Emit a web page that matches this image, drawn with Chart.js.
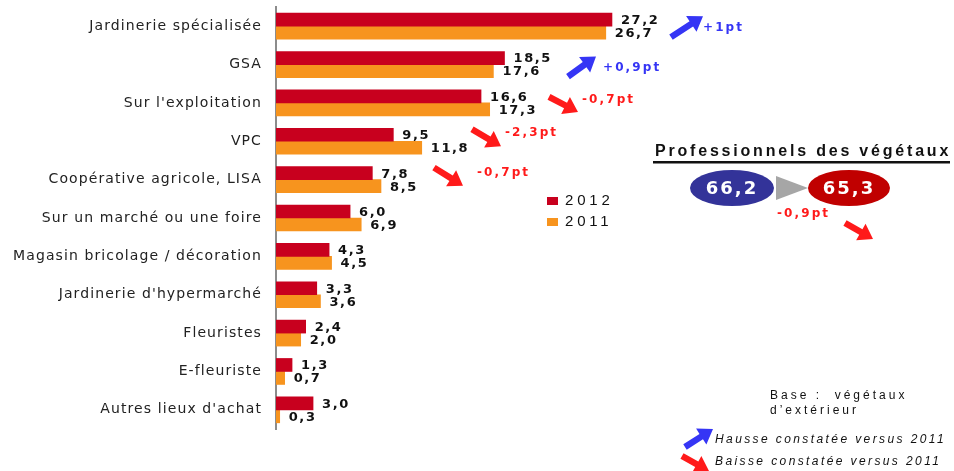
<!DOCTYPE html>
<html><head><meta charset="utf-8">
<script src="https://cdn.jsdelivr.net/npm/chart.js@4.4.0/dist/chart.umd.min.js"></script>
<style>html,body{margin:0;padding:0;background:#fff;}#wrap{width:954px;height:471px;}</style>
</head><body><div id="wrap"><canvas id="c" width="954" height="471"></canvas></div>
<script>
const categories = ['Jardinerie spécialisée','GSA',"Sur l'exploitation",'VPC','Coopérative agricole, LISA','Sur un marché ou une foire','Magasin bricolage / décoration',"Jardinerie d'hypermarché",'Fleuristes','E-fleuriste',"Autres lieux d'achat"];
const values2012 = [27.2,18.5,16.6,9.5,7.8,6.0,4.3,3.3,2.4,1.3,3.0];
const values2011 = [26.7,17.6,17.3,11.8,8.5,6.9,4.5,3.6,2.0,0.7,0.3];
const seriesNames = ['2012','2011'];
const changeLabels = ['+1pt','+0,9pt','-0,7pt','-2,3pt','-0,7pt'];
const panelTitle = 'Professionnels des végétaux';
const panelValues = ['66,2','65,3'];
const panelChange = '-0,9pt';
const baseNote = ['Base :  végétaux', 'd’extérieur'];
const arrowLegend = ['Hausse constatée versus 2011','Baisse constatée versus 2011'];

const RED = '#C8001E', ORANGE = '#F7941E', BLUE_A = '#3535F5', RED_A = '#FF1A1A';

function txt(ctx, s, x, y, o) {
  ctx.save();
  ctx.font = o.font; ctx.fillStyle = o.color || '#000';
  ctx.textAlign = o.align || 'left'; ctx.textBaseline = o.baseline || 'middle';
  ctx.letterSpacing = (o.ls || 0) + 'px';
  ctx.fillText(s, x, y);
  ctx.restore();
}
function arrow(ctx, tx, ty, px, py, color) {
  const dx = px - tx, dy = py - ty, L = Math.hypot(dx, dy);
  const ux = dx / L, uy = dy / L, nx = -uy, ny = ux;
  const w = 3.2, hl = 14, hw = 9.5;
  const bx = px - ux * hl, by = py - uy * hl;
  ctx.save(); ctx.fillStyle = color; ctx.beginPath();
  ctx.moveTo(tx + nx * w, ty + ny * w);
  ctx.lineTo(bx + nx * w, by + ny * w);
  ctx.lineTo(bx + nx * hw, by + ny * hw);
  ctx.lineTo(px, py);
  ctx.lineTo(bx - nx * hw, by - ny * hw);
  ctx.lineTo(bx - nx * w, by - ny * w);
  ctx.lineTo(tx - nx * w, ty - ny * w);
  ctx.closePath(); ctx.fill(); ctx.restore();
}
const fmt = v => v.toFixed(1).replace('.', ',');

const decor = {
  id: 'decor',
  beforeDraw(chart) { chart.ctx.letterSpacing = '1.1px'; },
  beforeDatasetsDraw(chart) { chart.ctx.letterSpacing = '0px'; },
  afterDatasetsDraw(chart) {
    const ctx = chart.ctx;
    chart.data.datasets.forEach((ds, di) => {
      const meta = chart.getDatasetMeta(di);
      meta.data.forEach((bar, i) => {
        txt(ctx, fmt(ds.data[i]), bar.x + 9, bar.y + 1, {font: 'bold 13px "DejaVu Sans"', color: '#111', ls: 1.6});
      });
    });
  },
  afterDraw(chart) {
    const ctx = chart.ctx, ys = chart.scales.y;
    const cy = i => ys.getPixelForValue(i);
    // change annotations (tail x, tail dy, tip x, tip dy, text x, text dy)
    const ann = [
      [671, 11, 703, -10, 703, 2],
      [568, 12, 596, -8, 603, 3],
      [549, -6, 578, 9, 582, -3],
      [472, -12, 501, 5, 505, -8],
      [434, -12, 463, 6, 477, -7]
    ];
    changeLabels.forEach((lab, i) => {
      const up = lab[0] === '+';
      const a = ann[i], c = cy(i);
      arrow(ctx, a[0], c + a[1], a[2], c + a[3], up ? BLUE_A : RED_A);
      txt(ctx, lab, a[4], c + a[5], {font: 'bold 12px "DejaVu Sans"', color: up ? BLUE_A : RED_A, ls: 2.1});
    });
    // series legend
    const cols = [RED, ORANGE];
    seriesNames.forEach((n, i) => {
      const y = 201 + i * 21;
      ctx.fillStyle = cols[i]; ctx.fillRect(547, y - 4, 11, 8);
      txt(ctx, n, 565, y, {font: '15px "Liberation Sans"', color: '#111', ls: 3.8});
    });
    // panel
    txt(ctx, panelTitle, 655, 152, {font: 'bold 16px "Liberation Sans"', color: '#111', ls: 2.8});
    ctx.fillStyle = '#111'; ctx.fillRect(653, 161, 297, 2.5);
    ctx.fillStyle = '#333399';
    ctx.beginPath(); ctx.ellipse(732, 188, 42, 18, 0, 0, Math.PI * 2); ctx.fill();
    ctx.fillStyle = '#C00000';
    ctx.beginPath(); ctx.ellipse(849, 188, 41, 18, 0, 0, Math.PI * 2); ctx.fill();
    ctx.fillStyle = '#A6A6A6';
    ctx.beginPath(); ctx.moveTo(776, 176); ctx.lineTo(808, 188); ctx.lineTo(776, 200); ctx.closePath(); ctx.fill();
    txt(ctx, panelValues[0], 732, 189, {font: 'bold 18px "DejaVu Sans"', color: '#fff', align: 'center', ls: 2});
    txt(ctx, panelValues[1], 849, 189, {font: 'bold 18px "DejaVu Sans"', color: '#fff', align: 'center', ls: 2});
    txt(ctx, panelChange, 777, 214, {font: 'bold 12px "DejaVu Sans"', color: RED_A, ls: 2.1});
    arrow(ctx, 845, 223, 873, 239, RED_A);
    // notes
    txt(ctx, baseNote[0], 770, 396, {font: '12px "Liberation Sans"', color: '#111', ls: 3});
    txt(ctx, baseNote[1], 770, 411, {font: '12px "Liberation Sans"', color: '#111', ls: 3});
    arrow(ctx, 685, 447, 713, 429, BLUE_A);
    txt(ctx, arrowLegend[0], 715, 440, {font: 'italic 12px "Liberation Sans"', color: '#111', ls: 2.4});
    arrow(ctx, 682, 456, 709, 471, RED_A);
    txt(ctx, arrowLegend[1], 715, 462, {font: 'italic 12px "Liberation Sans"', color: '#111', ls: 2.4});
  }
};

new Chart(document.getElementById('c'), {
  type: 'bar',
  data: {
    labels: categories,
    datasets: [
      {label: seriesNames[0], data: values2012, backgroundColor: RED, barThickness: 13},
      {label: seriesNames[1], data: values2011, backgroundColor: ORANGE, barThickness: 13}
    ]
  },
  options: {
    indexAxis: 'y', responsive: false, animation: false,
    layout: {padding: {left: 0, right: 11, top: 7, bottom: 42}},
    plugins: {legend: {display: false}, tooltip: {enabled: false}},
    scales: {
      x: {display: false, min: 0, max: 54},
      y: {
        grid: {display: false, drawTicks: false},
        border: {display: true, color: '#8C8C8C', width: 2},
        ticks: {padding: 14, color: '#222', font: {family: 'DejaVu Sans', size: 14}},
        afterFit(s) { s.width = 276; s.paddingTop = 0; s.paddingBottom = 0; }
      }
    }
  },
  plugins: [decor]
});
</script></body></html>
